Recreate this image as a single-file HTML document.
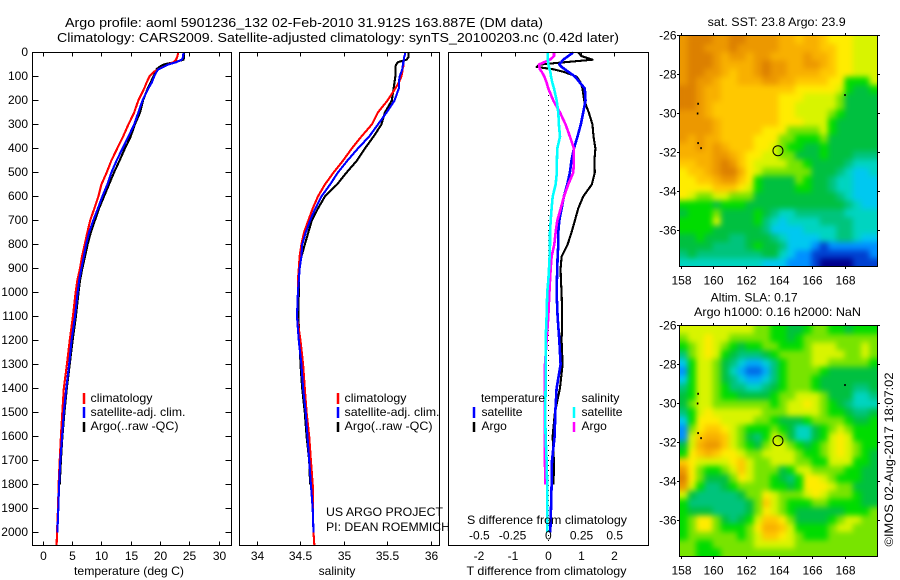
<!DOCTYPE html>
<html lang="en">
<head>
<meta charset="utf-8">
<title>Argo profile chart</title>
<style>
html,body{margin:0;padding:0;background:#fff;}
svg{display:block;}
text{font-family:"Liberation Sans",Arial,sans-serif;font-size:12px;fill:#000;}
</style>
</head>
<body>
<svg id="chart" width="900" height="580" viewBox="0 0 900 580" xmlns="http://www.w3.org/2000/svg">
<defs>
<filter id="smooth" x="0" y="0" width="1" height="1" color-interpolation-filters="sRGB">
<feGaussianBlur stdDeviation="3"/>
<feComponentTransfer><feFuncA type="linear" slope="50"/></feComponentTransfer>
</filter>
<clipPath id="clip-sst"><rect x="679.5" y="35.5" width="198" height="231"/></clipPath>
<clipPath id="clip-sla"><rect x="679.5" y="325.5" width="198" height="231"/></clipPath>
</defs>
<rect width="900" height="580" fill="#fff"/>
<text x="65" y="27" font-size="13" textLength="478" lengthAdjust="spacingAndGlyphs" style="font-size:13px">Argo profile: aoml 5901236_132 02-Feb-2010 31.912S 163.887E (DM data)</text>
<text x="57" y="42" textLength="562" lengthAdjust="spacingAndGlyphs" style="font-size:13px">Climatology: CARS2009. Satellite-adjusted climatology: synTS_20100203.nc (0.42d later)</text>
<g id="marks"></g>
<text x="129" y="575" text-anchor="middle" textLength="110" lengthAdjust="spacingAndGlyphs">temperature (deg C)</text>
<text x="337" y="575" text-anchor="middle">salinity</text>
<text x="546.5" y="575" text-anchor="middle" textLength="160" lengthAdjust="spacingAndGlyphs">T difference from climatology</text>
<text x="547" y="524" text-anchor="middle" textLength="160" lengthAdjust="spacingAndGlyphs">S difference from climatology</text>

<g>
<line x1="84" x2="84" y1="393" y2="404" stroke="#f00" stroke-width="2.5"/>
<line x1="84" x2="84" y1="407" y2="418" stroke="#00f" stroke-width="2.5"/>
<line x1="84" x2="84" y1="422" y2="432" stroke="#000" stroke-width="2.5"/>
<text x="90.5" y="402" textLength="62" lengthAdjust="spacingAndGlyphs">climatology</text>
<text x="90.5" y="416" textLength="95" lengthAdjust="spacingAndGlyphs">satellite-adj. clim.</text>
<text x="90.5" y="430" textLength="88" lengthAdjust="spacingAndGlyphs">Argo(..raw -QC)</text>
</g>
<g>
<line x1="338" x2="338" y1="393" y2="404" stroke="#f00" stroke-width="2.5"/>
<line x1="338" x2="338" y1="407" y2="418" stroke="#00f" stroke-width="2.5"/>
<line x1="338" x2="338" y1="422" y2="432" stroke="#000" stroke-width="2.5"/>
<text x="344.5" y="402" textLength="62" lengthAdjust="spacingAndGlyphs">climatology</text>
<text x="344.5" y="416" textLength="95" lengthAdjust="spacingAndGlyphs">satellite-adj. clim.</text>
<text x="344.5" y="430" textLength="88" lengthAdjust="spacingAndGlyphs">Argo(..raw -QC)</text>
</g>
<text x="326" y="516" textLength="117" lengthAdjust="spacingAndGlyphs">US ARGO PROJECT</text>
<text x="326" y="531" textLength="124" lengthAdjust="spacingAndGlyphs">PI: DEAN ROEMMICH</text>
<g>
<text x="481" y="402" textLength="64" lengthAdjust="spacingAndGlyphs">temperature</text>
<text x="581.5" y="402" textLength="38" lengthAdjust="spacingAndGlyphs">salinity</text>
<line x1="474" x2="474" y1="407" y2="418" stroke="#00f" stroke-width="2.5"/>
<line x1="474" x2="474" y1="422" y2="432" stroke="#000" stroke-width="2.5"/>
<line x1="574" x2="574" y1="407" y2="418" stroke="#0ff" stroke-width="2.5"/>
<line x1="574" x2="574" y1="422" y2="432" stroke="#f0f" stroke-width="2.5"/>
<text x="481.5" y="416" textLength="41" lengthAdjust="spacingAndGlyphs">satellite</text>
<text x="481.5" y="430">Argo</text>
<text x="581.5" y="416" textLength="41" lengthAdjust="spacingAndGlyphs">satellite</text>
<text x="581.5" y="430">Argo</text>
</g>
<text x="707.7" y="26" textLength="138" lengthAdjust="spacingAndGlyphs">sat. SST: 23.8 Argo: 23.9</text>
<text x="710.7" y="301.5" textLength="87" lengthAdjust="spacingAndGlyphs">Altim. SLA: 0.17</text>
<text x="694" y="316" textLength="167" lengthAdjust="spacingAndGlyphs">Argo h1000: 0.16 h2000: NaN</text>
<text transform="translate(893,546.5) rotate(-90)" textLength="174" lengthAdjust="spacingAndGlyphs">©IMOS 02-Aug-2017 18:07:02</text>
</svg>
<script>
// ---------- profile data ----------
const depths = [0,10,20,30,40,50,60,70,80,100,125,150,200,250,300,350,400,450,500,550,600,650,700,750,800,850,900,950,1000,1100,1200,1300,1400,1500,1600,1700,1800,1900,2000,2056];
const tempClim = [23.0,22.9,22.8,22.6,22.2,21.3,20.45,19.6,18.9,18.1,17.6,17.2,16.2,15.5,14.5,13.6,12.6,11.6,10.8,9.9,9.4,8.7,8.0,7.5,7.05,6.6,6.25,5.8,5.5,5.05,4.5,4.03,3.5,3.24,3.0,2.8,2.6,2.5,2.33,2.27];
const tempSat = [23.9,23.85,23.8,23.6,22.7,21.3,20.5,19.6,19.3,18.9,18.5,17.9,16.9,16.2,15.5,14.5,13.5,12.5,11.6,10.9,10.05,9.3,8.5,7.8,7.3,6.9,6.5,6.1,5.85,5.4,4.8,4.4,3.9,3.5,3.2,2.9,2.7,2.55,2.4];
const tempArgo = [24.0,24.0,24.0,23.9,22.4,20.5,19.8,19.3,19.2,18.75,18.3,17.8,17.0,16.5,15.6,14.9,13.9,13.0,12.05,11.2,10.35,9.5,8.8,8.1,7.55,7.1,6.65,6.25,6.0,5.55,5.0,4.5,4.0,3.6,3.25,3.0,2.8];
const salClim = [35.7,35.7,35.69,35.69,35.68,35.68,35.68,35.67,35.67,35.66,35.63,35.59,35.5,35.39,35.32,35.2,35.09,34.99,34.88,34.78,34.7,34.64,34.59,34.54,34.51,34.49,34.48,34.47,34.47,34.46,34.5,34.53,34.55,34.57,34.6,34.62,34.64,34.64,34.65,34.66];
const salSat = [35.7,35.7,35.69,35.69,35.68,35.68,35.67,35.67,35.66,35.64,35.63,35.63,35.58,35.49,35.39,35.29,35.16,35.04,34.93,34.84,34.74,34.67,34.61,34.56,34.52,34.51,34.49,34.48,34.47,34.46,34.48,34.51,34.53,34.56,34.58,34.6,34.62,34.64,34.65];
const salArgo = [35.74,35.74,35.74,35.72,35.62,35.6,35.59,35.59,35.59,35.59,35.58,35.57,35.55,35.47,35.43,35.34,35.24,35.15,35.03,34.92,34.78,34.7,34.63,34.59,34.55,34.51,34.49,34.48,34.48,34.475,34.49,34.5,34.52,34.55,34.57,34.6,34.61];
const diffDepths = [0,15,30,50,60,70,80,100,125,150,200,250,300,350,400,450,500,550,600,650,700,750,800,850,900,950,1000,1100,1200,1300,1400,1500,1600,1700,1800,1900,2000];
const tDiffArgo = [0.9,1.0,1.33,-0.25,-0.35,0.15,0.45,0.85,0.97,1.03,1.08,1.22,1.33,1.36,1.42,1.39,1.4,1.31,1.05,0.9,0.8,0.7,0.58,0.4,0.37,0.38,0.4,0.42,0.4,0.43,0.35,0.2,0.13,0.17,0.16];
const tDiffSat = [0.75,0.6,0.45,0.33,0.4,0.5,0.6,0.8,0.95,1.1,1.12,1.05,0.98,0.88,0.77,0.7,0.65,0.57,0.47,0.4,0.33,0.3,0.3,0.28,0.27,0.26,0.25,0.28,0.33,0.37,0.25,0.21,0.19,0.11,0.1,0.08,0.06];
const sDiffSat = [-0.005,-0.005,-0.003,0,0.005,0.01,0.015,0.02,0.03,0.043,0.063,0.075,0.08,0.088,0.068,0.065,0.065,0.055,0.033,0.025,0.018,0.013,0.013,0.01,0.005,0,-0.008,-0.013,-0.02,-0.02,-0.02,-0.023,-0.02,-0.013,-0.008,-0.008,-0.008];
const sDiffArgo = [0.043,0.043,0.013,-0.07,-0.068,-0.063,-0.05,-0.03,-0.013,0,0.038,0.088,0.13,0.163,0.193,0.193,0.188,0.15,0.118,0.093,0.068,0.055,0.045,0.025,0.018,0.013,0.008,0,-0.013,-0.025,-0.028,-0.028,-0.028,-0.025,-0.023];
// ---------- tick labels ----------
const depthTicks = [0,100,200,300,400,500,600,700,800,900,1000,1100,1200,1300,1400,1500,1600,1700,1800,1900,2000];
const tempTicks = [0,5,10,15,20,25,30];
const salTicks = [34,34.5,35,35.5,36];
const tDiffTicks = [-2,-1,0,1,2];
const sDiffTicks = [-0.5,-0.25,0,0.25,0.5];
const lonTicks = [158,160,162,164,166,168];
const latTicks = [-26,-28,-30,-32,-34,-36];
const floatLon = 163.887;
const floatLat = -31.912;
const coastLons = [159.05,159.02,159.05,159.23,167.97];
const coastLats = [-29.5,-30,-31.52,-31.78,-29.05];
// ---------- map data (colour level per cell, north to south) ----------
const sstLevels = [
[13,14,14,14,13,13,14,14,13,13,13,13,12,12,11,12,12,11,10,10,10,9,9,9],
[13,14,14,13,13,13,14,13,13,13,13,13,12,12,12,12,12,11,11,10,10,9,9,9],
[13,14,14,14,13,12,13,13,12,13,13,12,12,12,12,13,12,12,11,10,10,9,9,9],
[13,14,14,14,13,12,12,12,12,13,14,13,13,12,12,13,13,12,11,10,10,9,9,9],
[13,14,14,13,13,12,11,12,12,13,14,13,13,12,12,12,12,11,11,10,10,9,9,9],
[13,14,13,13,12,11,11,12,12,12,13,13,12,12,11,11,11,11,10,10,7,7,7,9],
[14,14,13,12,12,11,11,11,11,11,11,11,11,11,10,10,10,10,10,9,7,6,6,7],
[14,14,13,12,12,11,11,11,11,11,11,11,10,10,10,9,9,9,9,8,6,6,6,6],
[14,14,13,12,11,11,11,11,11,11,11,11,10,10,9,9,9,9,9,8,6,6,6,6],
[13,13,13,12,11,11,11,11,11,11,11,11,10,10,9,9,9,9,8,7,6,6,6,6],
[13,13,13,13,12,11,11,11,11,11,11,11,10,10,10,9,9,9,7,6,6,6,6,6],
[13,13,13,13,12,11,11,11,11,11,10,10,10,8,8,8,8,9,7,6,6,6,6,6],
[13,12,13,12,12,11,11,11,11,10,10,10,8,8,7,7,7,8,6,6,6,6,6,6],
[12,12,13,12,13,12,11,11,11,10,10,9,8,7,7,6,6,7,6,6,6,6,6,6],
[12,12,12,12,13,13,12,11,10,10,9,9,8,8,6,6,6,7,6,6,6,5,5,5],
[11,11,12,12,13,14,13,11,10,9,9,9,9,8,8,7,6,6,6,6,5,4,4,4],
[10,11,11,12,13,14,14,12,10,9,8,8,8,8,8,8,6,6,6,5,4,3,3,4],
[10,10,11,11,12,13,13,11,10,7,6,6,6,6,8,7,6,6,5,4,4,3,3,3],
[10,10,10,10,11,11,11,10,9,7,6,6,6,6,7,7,6,6,5,4,4,3,3,3],
[10,9,8,8,9,9,8,8,8,6,6,6,6,6,6,6,6,6,6,5,4,3,3,3],
[7,7,7,7,6,7,7,7,6,6,6,6,6,6,6,6,6,6,6,6,5,4,3,3],
[6,7,7,7,8,6,6,6,6,7,6,5,4,4,5,5,5,5,5,5,4,4,4,4],
[7,7,7,7,9,6,6,6,6,7,5,4,3,4,4,4,4,5,5,5,5,4,4,4],
[7,7,7,7,6,6,6,6,6,6,5,3,3,3,3,4,4,4,4,5,5,4,4,4],
[6,6,7,6,6,6,5,5,6,6,6,5,4,3,3,3,3,4,4,5,5,4,3,3],
[6,6,6,6,5,5,5,5,6,7,6,6,5,3,3,3,2,1,2,2,2,2,2,2],
[5,6,5,5,5,5,5,5,5,5,6,6,4,3,2,2,1,1,1,1,1,1,1,2],
[4,4,4,4,4,4,4,4,4,4,3,3,3,2,2,2,1,0,0,0,0,1,1,1]
];
const slaLevels = [
[9,9,9,9,9,9,9,9,9,8,8,7,7,6,6,7,8,8,7,7,6,7,7,7],
[8,9,9,10,9,9,8,8,8,8,8,7,7,6,7,8,8,8,8,8,8,8,8,8],
[7,8,9,10,9,8,7,6,7,7,8,8,7,7,7,8,9,9,9,8,8,8,9,8],
[5,8,9,10,9,7,6,5,5,5,6,7,8,8,8,8,9,9,9,9,8,8,9,8],
[3,7,9,9,8,6,5,3.5,2.5,2.5,3.5,5,7,8,8,8,9,9,8,8,8,8,8,7],
[2,7,9,9,8,6,4,2.5,1.5,1.5,2.5,5,7,8,8,8,8,7,6,6,6,6,6,6],
[3,7,9,9,8,6,5,3.5,2.5,2.5,3.5,5,7,8,8,8,7,6,6,6,6,6,6,6],
[5,7,9,9,8,7,5,5,4,4,5,6,7,8,8,8,7,6,6,6,6,5,5,6],
[6,7,9,9,8,7,7,6,6,6,6,7,8,8,9,9,9,8,6,6,6,4,4,5],
[6,8,9,9,8,8,8,8,8,8,8,7,8,9,9,10,9,8,7,6,5,4,4,4],
[5,7,9,10,9,9,9,9,9,9,8,8,8,9,9,9,9,8,7,7,6,5,5,6],
[3,7,10,10,10,9,9,9,9,8,8,7,6,6,6,7,8,8,8,8,7,6,6,7],
[2,8,10,11,11,10,9,8,7,7,7,8,7,6,4,4,6,7,8,9,8,7,7,7],
[2,9,11,12,12,11,9,8,6,5,7,9,8,6,4,4,6,7,9,10,9,7,7,7],
[6,9,12,13,13,11,9,8,7,6,8,9,9,8,7,6,7,8,9,10,9,8,7,7],
[7,10,11,12,11,10,10,9,8,8,9,9,9,9,8,7,7,8,9,10,9,8,7,6],
[11,10,9,9,9,9,10,11,9,8,8,9,9,9,8,8,7,7,9,9,9,7,7,6],
[13,10,8,7,7,8,9,11,9,8,8,8,6,7,9,9,8,8,8,8,7,7,6,6],
[14,10,8,6,6,6,8,10,9,8,8,7,6,5,7,10,10,9,8,7,7,7,6,6],
[13,9,7,5,5,6,7,8,8,8,8,7,7,6,7,10,10,10,9,8,8,6,6,6],
[9,6,5,5,5,5,5,6,8,8,10,9,8,8,8,9,10,9,8,8,8,7,6,6],
[7,5,5,5,5,5,5,5,6,8,11,9,8,7,7,7,8,8,7,7,7,7,6,6],
[7,6,6,6,5,5,5,5,6,8,10,9,8,7,6,6,6,6,6,6,7,7,7,8],
[7,8,10,10,8,6,5,6,7,9,11,11,10,8,6,6,6,6,7,8,9,9,8,8],
[7,8,10,10,8,7,7,7,8,10,12,12,11,9,7,7,7,7,8,9,9,8,8,8],
[7,8,8,8,8,8,8,7,8,9,11,11,10,9,8,7,7,7,8,8,8,8,8,8],
[8,8,7,7,8,8,8,8,8,9,9,9,9,9,8,8,8,8,8,8,8,8,8,8],
[8,8,7,7,7,8,8,8,8,8,8,8,8,8,8,8,8,8,8,8,8,8,8,8]
];

// ---------- helpers ----------
const NS = 'http://www.w3.org/2000/svg';
const root = document.getElementById('marks');
function mk(tag, attrs, parent) {
  const el = document.createElementNS(NS, tag);
  for (const k in attrs) el.setAttribute(k, attrs[k]);
  (parent || root).appendChild(el);
  return el;
}
const palette = ['#00008c','#0040d0','#0090ff','#00c8f0','#00d4c0','#00c47c','#00c040','#00dc00','#78e400','#d8f400','#ffec00','#ffc800','#f8b000','#ec9800','#dc8000'];
function levelColor(v) {
  const c = Math.max(0, Math.min(palette.length - 1, v));
  const i = Math.min(palette.length - 2, Math.floor(c)), f = c - i;
  const p = h => [1,3,5].map(n => parseInt(h.substr(n,2),16));
  const a = p(palette[i]), b = p(palette[i+1]);
  return 'rgb(' + a.map((x,n) => Math.round(x + (b[n]-x)*f)).join(',') + ')';
}
// axis functions
const yDepth = d => 52.5 + 0.24 * d;
const xTemp = t => 43.3 + 5.867 * t;
const xSal = s => 257 + 87 * (s - 34);
const xTDiff = t => 548.3 + 33.2 * t;
const xSDiff = s => 548.3 + 132.8 * s;
const xLon = lon => 681 + 16.47 * (lon - 158);
const yLatSst = lat => 35.7 + 19.45 * (-26 - lat);
const yLatSla = lat => 325.7 + 19.45 * (-26 - lat);

function drawProfile(values, dep, xf, color, name, width) {
  const pts = values.map((v, i) => xf(v).toFixed(1) + ',' + yDepth(dep[i]).toFixed(1)).join(' ');
  const el = mk('polyline', {points: pts, fill: 'none', stroke: color, 'stroke-width': width, 'stroke-linejoin': 'round', 'shape-rendering': 'crispEdges'});
  
  
}
function drawFrame(x, y, w, h, name) {
  const el = mk('rect', {x: x, y: y, width: w, height: h, fill: 'none', stroke: '#000', 'stroke-width': 1, 'shape-rendering': 'crispEdges'});
  
  
}
function tick(x1, y1, x2, y2) {
  const el = mk('line', {x1: x1, y1: y1, x2: x2, y2: y2, stroke: '#000', 'stroke-width': 1, 'shape-rendering': 'crispEdges'});
  
  
}
function label(txt, x, y, anchor) {
  const el = mk('text', {x: x, y: y, 'text-anchor': anchor});
  el.textContent = txt;
  
  
}
function centeredX(v) { return v < 0 ? -2.5 : 0; }

// ---------- profile panels ----------
drawProfile(tempArgo, depths, xTemp, '#000', 'temperature-argo-line', 2.1);
drawProfile(tempClim, depths, xTemp, '#f00', 'temperature-climatology-line', 2.1);
drawProfile(tempSat, depths, xTemp, '#00f', 'temperature-satellite-line', 2.1);
drawProfile(salArgo, depths, xSal, '#000', 'salinity-argo-line', 2.1);
drawProfile(salClim, depths, xSal, '#f00', 'salinity-climatology-line', 2.1);
drawProfile(salSat, depths, xSal, '#00f', 'salinity-satellite-line', 2.1);

const zeroLine = mk('line', {x1: xTDiff(0), x2: xTDiff(0), y1: 90, y2: 545.5, stroke: '#000', 'stroke-width': 1, 'stroke-dasharray': '1 4', 'shape-rendering': 'crispEdges'});


drawProfile(tDiffArgo, diffDepths, xTDiff, '#000', 't-difference-argo-line', 2.1);
drawProfile(tDiffSat, diffDepths, xTDiff, '#00f', 't-difference-satellite-line', 2.6);
drawProfile(sDiffArgo, diffDepths, xSDiff, '#f0f', 's-difference-argo-line', 2.6);
drawProfile(sDiffSat, diffDepths, xSDiff, '#0ff', 's-difference-satellite-line', 2.6);

drawFrame(32.5, 52.5, 199, 493, 'temperature-panel-frame');
drawFrame(239.5, 52.5, 200, 493, 'salinity-panel-frame');
drawFrame(448.5, 52.5, 200, 493, 'difference-panel-frame');

depthTicks.forEach(d => {
  const y = Math.floor(yDepth(d)) + 0.5;
  if (d > 0) { tick(32.5, y, 38.5, y); tick(231.5, y, 225.5, y); }
  label(String(d), 28, Math.floor(y) + 4, 'end');
});
tempTicks.forEach(t => {
  const x = Math.floor(xTemp(t)) + 0.5;
  tick(x, 52.5, x, 56.5);
  tick(x, 545.5, x, 541.5);
  label(String(t), x, 560, 'middle');
});
salTicks.forEach(s => {
  const x = Math.floor(xSal(s)) + 0.5;
  tick(x, 52.5, x, 56.5);
  tick(x, 545.5, x, 541.5);
  label(String(s), x, 560, 'middle');
});
tDiffTicks.forEach(t => {
  const x = Math.floor(xTDiff(t)) + 0.5;
  if (t !== 0) tick(x, 52.5, x, 56.5);
  label(String(t), x + centeredX(t), 560, 'middle');
});
sDiffTicks.forEach(s => {
  const x = xSDiff(s);
  label(String(s), x + centeredX(s), 539.5, 'middle');
});

// ---------- maps ----------
function drawMap(levels, yLat, topLat, clipId, name, cellName) {
  const clip = mk('g', {'clip-path': 'url(#' + clipId + ')'});
  
  
  const g = mk('g', {filter: 'url(#smooth)'}, clip);
  
  
  const dLon = 198 / 24 / 16.47, dLat = 231 / 28 / 19.45;
  const lon0 = 158 + (679.5 - 681) / 16.47;
  levels.forEach((row, r) => row.forEach((v, c) => {
    const x0 = xLon(lon0 + c * dLon), y0 = yLat(topLat - r * dLat);
    const cell = mk('rect', {x: x0, y: y0, width: 8.75, height: 8.75, fill: levelColor(v)}, g);
    
    
  }));
  const top = yLat(-26);
  const frameY = Math.round(top) - 0.5;
  drawFrame(679.5, frameY, 198, 231, name + '-frame');
  lonTicks.forEach(l => {
    const x = Math.floor(xLon(l)) + 0.5;
    tick(x, frameY, x, frameY - 2.5);
    tick(x, frameY + 231, x, frameY + 233.5);
    label(String(l), x, frameY + 249, 'middle');
  });
  latTicks.forEach(l => {
    const y = Math.floor(yLat(l)) + 0.5;
    tick(679.5, y, 677, y);
    tick(877.5, y, 880, y);
    label(String(l), 676.5, Math.floor(y) + 4.5, 'end');
  });
  coastLons.forEach((lo, i) => {
    const dot = mk('rect', {x: xLon(lo) - 1, y: yLat(coastLats[i]) - 1, width: 1.6, height: 2, fill: '#000'});
    
    
  });
  const marker = mk('circle', {cx: xLon(floatLon), cy: yLat(floatLat), r: 5, fill: 'none', stroke: '#000', 'stroke-width': 1});
  
  
}
drawMap(sstLevels, yLatSst, -26, 'clip-sst', 'sst-map', 'sst-cell');
drawMap(slaLevels, yLatSla, -26, 'clip-sla', 'sla-map', 'sla-cell');
</script>
</body>
</html>
